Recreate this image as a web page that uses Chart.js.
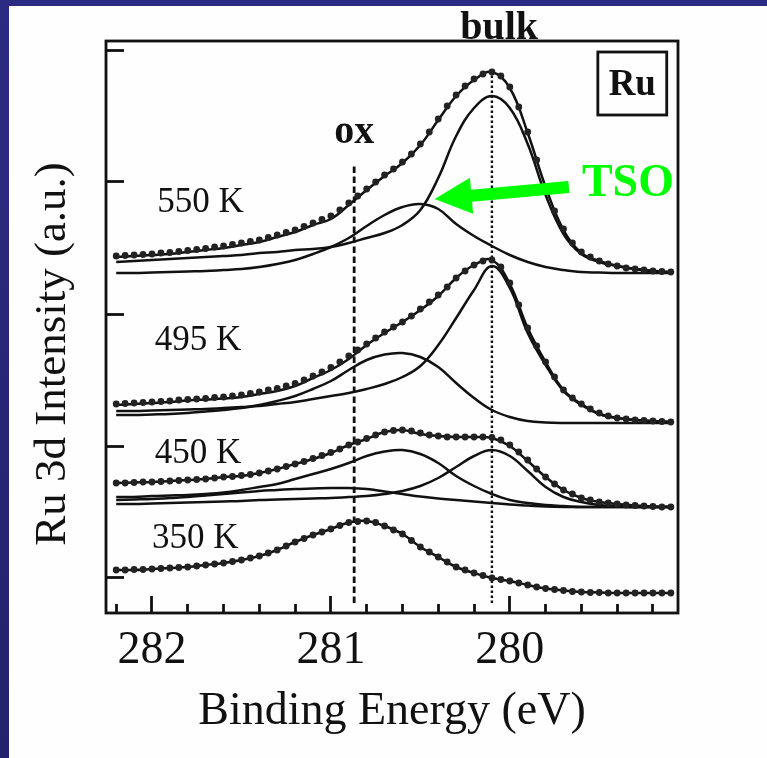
<!DOCTYPE html>
<html>
<head>
<meta charset="utf-8">
<title>Ru 3d XPS spectra</title>
<script src="https://cdn.jsdelivr.net/npm/chart.js@4.4.1/dist/chart.umd.min.js"></script>
<style>
  html, body { margin: 0; padding: 0; background: #2a2a7c; overflow: hidden; }
  canvas { display: block; }
</style>
</head>
<body>
<canvas id="xps" width="767" height="758"></canvas>
<script>
// ---- Binding energy grids (eV) ----
const energyData = [282.20, 282.15, 282.10, 282.05, 282.00, 281.95, 281.90, 281.85, 281.80, 281.75,
  281.70, 281.65, 281.60, 281.55, 281.50, 281.45, 281.40, 281.35, 281.30, 281.25,
  281.20, 281.15, 281.10, 281.05, 281.00, 280.95, 280.90, 280.85, 280.80, 280.75,
  280.70, 280.65, 280.60, 280.55, 280.50, 280.45, 280.40, 280.35, 280.30, 280.25,
  280.20, 280.15, 280.10, 280.05, 280.00, 279.95, 279.90, 279.85, 279.80, 279.75,
  279.70, 279.65, 279.60, 279.55, 279.50, 279.45, 279.40, 279.35, 279.30, 279.25,
  279.20, 279.15, 279.10];
const energyFit = [282.2, 282.1, 282.0, 281.9, 281.8, 281.7, 281.6, 281.5, 281.4, 281.3,
  281.2, 281.1, 281.0, 280.9, 280.8, 280.7, 280.6, 280.5, 280.4, 280.3,
  280.2, 280.1, 280.0, 279.9, 279.8, 279.7, 279.6, 279.5, 279.4, 279.3,
  279.2, 279.1];

// ---- Measured spectra (stacked, arbitrary units) ----
const data550 = [357, 357.5, 358, 358.5, 359, 360, 360.5, 361.5, 362.5, 363.5,
  364.5, 366, 367, 368.5, 370, 371.5, 373, 375.5, 378, 380.5,
  383, 386.5, 390, 393.5, 397, 403, 410, 417, 424, 431,
  438, 444, 451, 459, 469, 481, 494, 507, 518, 527,
  534, 539, 541, 537, 526, 506, 481, 453, 426, 402,
  384, 370, 361, 356, 352, 349, 347, 345, 344, 343,
  342, 341.5, 341];
const data495 = [209, 209.5, 210, 210.5, 211, 211.5, 212, 213, 213.5, 214,
  214.5, 215.5, 216, 217, 218, 219.5, 221, 223, 224.5, 227,
  229.5, 233, 237, 241, 245.5, 251, 257, 263, 269, 275,
  281, 286, 291, 297, 304, 311, 318, 326, 335, 342,
  348, 352, 353, 346, 330, 308, 285, 267, 251, 236,
  223, 215, 209, 204, 200, 197, 195, 194, 193, 192.5,
  192, 191.5, 191];
const data450 = [130, 130, 130.5, 131, 131, 131.5, 132, 132.5, 133, 133.5,
  134, 135, 136, 136.5, 137.5, 138.5, 140, 142, 144, 146.5,
  149, 151.5, 154.5, 157.5, 160.5, 164, 168, 171, 174.5, 178,
  181, 182.5, 183, 182, 180, 178, 177, 176, 176, 176,
  176, 176, 175.5, 173, 168, 161, 153, 144, 136, 129,
  123, 119, 115, 113, 111, 110, 109, 108, 107.5, 107,
  106.5, 106, 106];
const data350 = [43, 43, 43.5, 43.5, 44, 44.5, 45, 45.5, 46, 47,
  48, 49, 50, 51.5, 53, 55, 57, 60, 63, 67,
  71, 74.5, 78, 81, 84, 87.5, 90.5, 91.5, 92, 90.5,
  87, 83, 79, 72.5, 66, 61, 56, 51, 46, 43,
  40, 37.5, 35, 33.5, 32, 30, 28, 26, 24.5, 23.5,
  22.5, 21.5, 21, 20.5, 20.5, 20, 20, 20, 20, 20,
  20, 20, 20];

// ---- Peak fits: total envelope and components ----
const fit550  = [356, 357, 358, 359, 361, 363, 365, 368, 371, 376, 381, 388, 394, 408, 423, 437,
  450, 468, 493, 517, 533, 541, 525, 480, 426, 383, 360, 352, 347, 344, 342, 341];
const bulk550 = [351, 352, 353, 354, 355, 356, 357, 358, 360, 361, 363, 364, 366, 370, 375, 380,
  388, 403, 435, 477, 505, 517, 505, 469, 418, 379, 359, 351, 347, 344, 342, 341];
const tso550  = [340, 340, 340.5, 341, 341.5, 342, 343, 344, 346, 349, 353, 359, 366, 375, 387, 398,
  406, 409, 404, 389, 377, 367, 358, 351, 346, 343, 341, 340.5, 340, 340, 340, 340];

const fit495  = [208, 209, 210, 211, 212.5, 213.5, 214.5, 216, 219, 222, 227, 235, 243, 254, 268, 280,
  291, 303, 317, 335, 348, 353, 329, 285, 251, 223, 209, 199, 195, 193, 192, 191];
const bulk495 = [202, 202, 202.5, 203, 203.5, 204, 205, 206, 207, 209, 211, 214, 217, 220, 224, 229,
  236, 247, 268, 295, 323, 347, 325, 280, 248, 222, 208, 199, 195, 193, 192, 191];
const tso495  = [198, 198, 198.5, 199, 200, 201.5, 203, 205, 208, 212, 217, 224, 232, 243, 253, 258.5,
  260, 256, 246, 230, 215, 203, 196, 192, 190.5, 190, 190, 190, 190, 190, 190, 190];

const fit450  = [130, 130.5, 131, 132, 133, 134, 136, 137, 140, 144, 149, 154, 160, 168, 174, 181,
  183, 179, 177, 176, 176, 175, 167, 152, 136, 123, 115, 111, 109, 107.5, 106.5, 106];
const tso450  = [116, 116, 117, 117.5, 118, 119, 120.5, 123, 126, 129, 134, 139, 144, 150, 157, 161.5,
  163, 159, 150, 137, 127, 119, 113, 110, 108, 107, 106, 106, 106, 106, 106, 106];
const bulk450 = [109, 109, 109.5, 110, 110.5, 111, 111.5, 112, 113, 113.5, 114, 114.5, 115, 116, 117, 119,
  122, 127, 135, 146, 157, 163, 157, 142, 126, 116, 111, 108, 107, 106, 106, 106];
const ox450   = [113, 113.5, 114, 115, 116, 117.5, 119, 120.5, 122, 123, 124, 124.5, 125, 125, 124, 121.5,
  119, 116.5, 114.5, 113, 111.5, 110, 108.5, 107.5, 106.5, 106, 106, 106, 106, 106, 106, 106];

const fit350  = [43, 43, 44, 45, 46, 48, 50, 53, 57, 63, 71, 78, 84, 90.5, 92, 87,
  79, 66, 56, 46, 40, 35, 32, 28, 24.5, 22.5, 21, 20.5, 20, 20, 20, 20];

// ---- Reference energies and axis ticks ----
const oxEnergy = 280.87;
const bulkEnergy = 280.1;
const oxLineSpan = [10, 447];
const bulkLineSpan = [10, 538];
const majorTicks = [282, 281, 280];
const minorTicks = [282.2, 281.8, 281.6, 281.4, 281.2, 280.8, 280.6, 280.4, 280.2,
  279.8, 279.6, 279.4, 279.2];
const yTicks = [36, 167, 299, 431, 563];
const tempLabels = ['550 K', '495 K', '450 K', '350 K'];
const xTitle = 'Binding Energy (eV)';
const yTitle = 'Ru 3d Intensity (a.u.)';

// ---- Styling ----
const SERIF = "'Liberation Serif', 'Times New Roman', Times, serif";
const INK = '#111111';
const GREEN = '#00ff00';

const pairs = (xs, ys) => ys.map((v, i) => ({ x: xs[i], y: v }));

const fitSet = ys => ({
  data: pairs(energyFit, ys), showLine: true, borderColor: INK, borderWidth: 2.5,
  pointRadius: 0, tension: 0.4, fill: false, order: 2
});
const dotSet = ys => ({
  data: pairs(energyData, ys), showLine: false, pointRadius: 3.4,
  pointBackgroundColor: '#222222', pointBorderWidth: 0, order: 0
});
const refSet = (e, span, dash, w) => ({
  data: [{ x: e, y: span[0] }, { x: e, y: span[1] }], showLine: true,
  borderColor: INK, borderWidth: w, borderDash: dash, pointRadius: 0, order: 3
});

const datasets = [
  refSet(oxEnergy, oxLineSpan, [6.5, 3.5], 2.8),
  refSet(bulkEnergy, bulkLineSpan, [2.4, 2.6], 2.4),
  fitSet(fit550), fitSet(bulk550), fitSet(tso550),
  fitSet(fit495), fitSet(bulk495), fitSet(tso495),
  fitSet(fit450), fitSet(tso450), fitSet(bulk450), fitSet(ox450),
  fitSet(fit350),
  dotSet(data550), dotSet(data495), dotSet(data450), dotSet(data350)
];

const X_MIN = 279.06, X_MAX = 282.257;

// Background panel, frame, labels and the TSO arrow
const decor = {
  id: 'decor',
  beforeDraw(chart) {
    const { ctx, width, height } = chart;
    ctx.save();
    const g = ctx.createLinearGradient(0, 0, 0, height);
    g.addColorStop(0, '#2c2b83');
    g.addColorStop(1, '#23226a');
    ctx.fillStyle = g;
    ctx.fillRect(0, 0, width, height);
    ctx.fillStyle = '#fefefe';
    ctx.fillRect(9, 6, width - 9, height - 6);
    ctx.restore();
  },
  afterDraw(chart) {
    const { ctx, chartArea: a, scales } = chart;
    const px = e => scales.x.getPixelForValue(e);
    const py = v => scales.y.getPixelForValue(v);
    ctx.save();

    // plot frame
    ctx.strokeStyle = INK;
    ctx.lineWidth = 2.8;
    ctx.strokeRect(a.left, a.top, a.right - a.left, a.bottom - a.top);

    // temperature labels
    const tempAnchors = [[281.97, 401], [281.985, 263], [281.985, 150], [282.0, 65]];
    ctx.fillStyle = INK;
    ctx.textBaseline = 'alphabetic';
    ctx.textAlign = 'left';
    ctx.font = `35px ${SERIF}`;
    tempLabels.forEach((t, i) => ctx.fillText(t, px(tempAnchors[i][0]), py(tempAnchors[i][1])));

    // peak markers
    ctx.textAlign = 'center';
    ctx.font = `bold 40px ${SERIF}`;
    ctx.fillText('ox', px(oxEnergy), py(470));
    ctx.fillText('bulk', px(280.06), py(574));

    // element box
    const bx0 = px(279.508), bx1 = px(279.123), by0 = py(561), by1 = py(498);
    ctx.lineWidth = 2.8;
    ctx.strokeRect(bx0, by0, bx1 - bx0, by1 - by0);
    ctx.font = `bold 37px ${SERIF}`;
    ctx.fillText('Ru', (bx0 + bx1) / 2, py(518));

    // TSO label and arrow
    ctx.fillStyle = GREEN;
    ctx.font = `bold 46px ${SERIF}`;
    ctx.fillText('TSO', px(279.34), py(417));
    const tip = [px(280.42), py(414)], tail = [px(279.67), py(426)];
    const dx = tip[0] - tail[0], dy = tip[1] - tail[1], L = Math.hypot(dx, dy);
    const ux = dx / L, uy = dy / L, nx = -uy, ny = ux;
    const headLen = 37, headHalf = 18, shaftHalf = 6;
    const nk = [tip[0] - ux * headLen, tip[1] - uy * headLen];
    ctx.beginPath();
    ctx.moveTo(tail[0] + nx * shaftHalf, tail[1] + ny * shaftHalf);
    ctx.lineTo(nk[0] + nx * shaftHalf, nk[1] + ny * shaftHalf);
    ctx.lineTo(nk[0] + nx * headHalf, nk[1] + ny * headHalf);
    ctx.lineTo(tip[0], tip[1]);
    ctx.lineTo(nk[0] - nx * headHalf, nk[1] - ny * headHalf);
    ctx.lineTo(nk[0] - nx * shaftHalf, nk[1] - ny * shaftHalf);
    ctx.lineTo(tail[0] - nx * shaftHalf, tail[1] - ny * shaftHalf);
    ctx.closePath();
    ctx.fill();

    // vertical axis title
    ctx.fillStyle = INK;
    ctx.font = `45px ${SERIF}`;
    ctx.textBaseline = 'middle';
    ctx.translate(a.left - 53, (a.top + a.bottom) / 2 + 27);
    ctx.rotate(-Math.PI / 2);
    ctx.fillText(yTitle, 0, 0);
    ctx.restore();
  }
};

new Chart(document.getElementById('xps'), {
  type: 'scatter',
  data: { datasets },
  options: {
    responsive: false,
    animation: false,
    devicePixelRatio: 1,
    layout: { padding: { top: 41, right: 89, left: 0, bottom: 0 } },
    plugins: { legend: { display: false }, tooltip: { enabled: false } },
    scales: {
      x: {
        type: 'linear', position: 'bottom', reverse: true, min: X_MIN, max: X_MAX, weight: 1,
        afterBuildTicks: s => { s.ticks = majorTicks.map(v => ({ value: v })); },
        afterFit: s => { s.height = 145; },
        grid: { drawOnChartArea: false, tickLength: -17, tickWidth: 2.8, tickColor: INK },
        border: { display: false },
        ticks: { padding: 27, color: INK, autoSkip: false, maxRotation: 0,
                 font: { family: SERIF, size: 46 } },
        title: { display: true, text: xTitle, color: INK,
                 font: { family: SERIF, size: 46 }, padding: { top: 0, bottom: 18 } }
      },
      xMinor: {
        type: 'linear', position: 'bottom', reverse: true, min: X_MIN, max: X_MAX, weight: 0,
        afterBuildTicks: s => { s.ticks = minorTicks.map(v => ({ value: v })); },
        afterFit: s => { s.height = 0; },
        grid: { drawOnChartArea: false, tickLength: -9, tickWidth: 2.8, tickColor: INK },
        border: { display: false },
        ticks: { display: false }
      },
      y: {
        type: 'linear', position: 'left', min: 0, max: 572,
        afterBuildTicks: s => { s.ticks = yTicks.map(v => ({ value: v })); },
        afterFit: s => { s.width = 106; },
        grid: { drawOnChartArea: false, tickLength: -18, tickWidth: 2.8, tickColor: INK },
        border: { display: false },
        ticks: { display: false }
      }
    }
  },
  plugins: [decor]
});
</script>
</body>
</html>
